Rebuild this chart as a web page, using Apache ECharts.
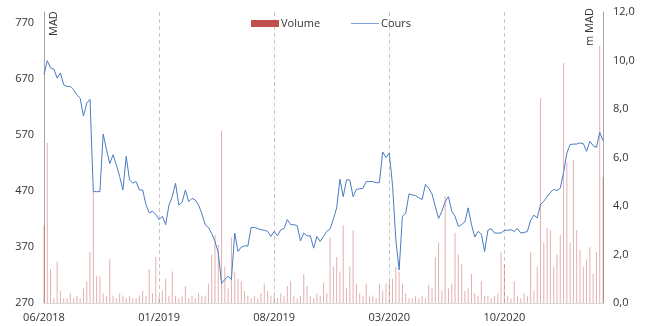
<!DOCTYPE html>
<html><head><meta charset="utf-8">
<script src="https://cdn.jsdelivr.net/npm/echarts@6/dist/echarts.min.js"></script>
<style>html,body{margin:0;padding:0;background:#fff}#c{width:645px;height:326px}</style>
</head><body><div id="c"></div>
<script>
// Months covered (each month ~5 points on the axis)
const months = ['06/2018','07/2018','08/2018','09/2018','10/2018','11/2018','12/2018',
'01/2019','02/2019','03/2019','04/2019','05/2019','06/2019','07/2019',
'08/2019','09/2019','10/2019','11/2019','12/2019','01/2020','02/2020',
'03/2020','04/2020','05/2020','06/2020','07/2020','08/2020','09/2020',
'10/2020','11/2020','12/2020','01/2021','02/2021','03/2021','04/2021'];
const tickLabels = ['06/2018','01/2019','08/2019','03/2020','10/2020'];

// Share price (MAD)
const cours = [
678,703,690,688,672,681,660,657,657,651,
642,636,604,627,634,469,469,469,572,544,
519,535,517,496,472,532,490,484,487,472,
472,446,431,434,428,419,425,410,445,460,
484,445,450,472,451,457,454,445,430,410,
405,394,380,360,305,312,318,312,395,362,
370,372,372,405,405,403,401,400,398,389,
398,390,401,403,419,410,410,408,381,395,
390,390,368,389,380,389,398,402,420,440,
491,460,490,490,460,473,474,475,487,487,
487,485,485,540,530,538,480,383,329,425,
430,465,463,462,458,455,482,475,465,442,
421,434,451,460,434,425,407,410,415,440,
410,388,398,393,362,400,403,395,395,395,
400,400,401,398,403,395,396,398,418,427,
422,446,452,460,468,473,471,475,503,538,
553,554,554,556,555,541,559,551,548,575,
560];

// Traded volume (million MAD)
const volume = [
3.2,6.6,1.4,0.2,1.7,0.5,0.2,0.2,0.4,0.2,
0.3,0.2,0.6,0.9,2.1,4.6,1.1,1.1,0.4,0.3,
1.8,0.3,0.2,0.4,0.3,0.2,0.3,0.2,0.2,0.3,
0.5,0.3,1.4,0.4,1.9,0.3,0.5,1.0,0.3,1.3,
0.3,0.2,0.3,0.7,0.2,0.3,0.2,0.4,0.3,0.3,
0.8,2.0,2.8,2.4,7.1,1.5,0.6,2.7,1.3,1.0,
0.9,0.5,0.3,0.2,0.3,0.2,0.4,0.8,0.5,0.3,
0.3,0.2,0.4,0.3,0.7,0.9,0.3,0.2,0.3,1.2,
0.7,0.3,0.2,0.4,0.3,0.85,0.4,2.7,1.5,1.9,
1.3,3.2,0.6,1.5,3.0,0.8,0.4,0.3,0.8,0.3,
0.3,0.2,0.8,0.5,0.8,0.9,1.0,1.5,1.3,0.8,
0.4,0.2,0.2,0.3,0.2,0.3,0.2,0.75,0.6,1.9,
2.5,0.5,4.4,0.6,0.8,2.9,2.0,1.6,0.5,0.6,
1.2,0.4,0.3,0.9,0.3,0.3,0.2,0.3,0.4,2.1,
1.6,0.3,0.2,0.9,0.3,0.2,0.4,0.3,2.1,0.5,
1.5,8.45,2.5,3.1,3.0,1.5,2.0,2.8,9.9,5.8,
2.5,5.9,3.0,2.2,1.5,1.8,2.3,1.2,2.1,10.6,
5.2];

const PER_MONTH = 5, LABEL_STEP = 35;
const categories = [];
months.forEach(m => { for (let k = 0; k < PER_MONTH; k++) categories.push(m); });
categories.length = cours.length;

const FONT = 'Open Sans';
const TXT = '#333';
const BLUE = '#4a7bc4';
const chart = echarts.init(document.getElementById('c'), null, {renderer: 'canvas'});
chart.setOption({
  animation: false,
  textStyle: {fontFamily: FONT},
  grid: {left: 44, right: 42, top: 12, bottom: 23, containLabel: false},
  legend: {
    left: 251, top: 18, padding: 0, itemGap: 31, itemWidth: 28, itemHeight: 7,
    textStyle: {fontFamily: FONT, fontSize: 11, color: TXT, padding: [0,0,0,-3]},
    data: [
      {name: 'Volume', icon: 'rect', itemStyle: {color: '#C0504D', opacity: 1}},
      {name: 'Cours', icon: 'path://M0,0H28V1H0Z', itemStyle: {color: '#7fa3d8', opacity: 1}}
    ]
  },
  xAxis: {
    type: 'category', data: categories, boundaryGap: false,
    axisLine: {show: true, lineStyle: {color: '#d9d9d9'}},
    axisTick: {show: false},
    axisLabel: {
      interval: LABEL_STEP - 1, color: TXT, fontSize: 11, fontFamily: FONT, margin: 9,
      formatter: (v, i) => tickLabels.indexOf(v) >= 0 ? v : ''
    },
    splitLine: {
      show: true,
      interval: (i) => i > 0 && i % LABEL_STEP === 0,
      lineStyle: {color: '#c8c8c8', type: [4, 3], width: 1}
    }
  },
  yAxis: [
    {
      type: 'value', min: 270, max: 790, interval: 100,
      axisLine: {show: true, lineStyle: {color: '#a6a6a6'}},
      axisTick: {show: false}, splitLine: {show: false},
      axisLabel: {showMaxLabel: false, color: TXT, fontSize: 11, fontFamily: FONT, margin: 10}
    },
    {
      type: 'value', min: 0, max: 12, interval: 2, position: 'right',
      axisLine: {show: true, lineStyle: {color: '#a6a6a6'}},
      axisTick: {show: false}, splitLine: {show: false},
      axisLabel: {color: TXT, fontSize: 11, fontFamily: FONT, margin: 10,
        formatter: v => v.toFixed(1).replace('.', ',')}
    }
  ],
  graphic: [
    {type: 'text', x: 54, y: 36, rotation: Math.PI / 2,
     style: {text: 'MAD', fill: TXT, font: '11px "Open Sans"', align: 'left', verticalAlign: 'middle'}},
    {type: 'text', x: 590, y: 46, rotation: Math.PI / 2,
     style: {text: 'm MAD', fill: TXT, font: '11px "Open Sans"', align: 'left', verticalAlign: 'middle'}}
  ],
  series: [
    {
      name: 'Volume', type: 'bar', yAxisIndex: 1, data: volume, barWidth: 1,
      itemStyle: {color: 'rgba(192,80,77,0.45)'}, z: 1
    },
    {
      name: 'Cours', type: 'line', yAxisIndex: 0, data: cours, symbol: 'none', showSymbol: false,
      lineStyle: {color: BLUE, width: 1}, itemStyle: {color: BLUE}, z: 3
    }
  ]
});
</script></body></html>
